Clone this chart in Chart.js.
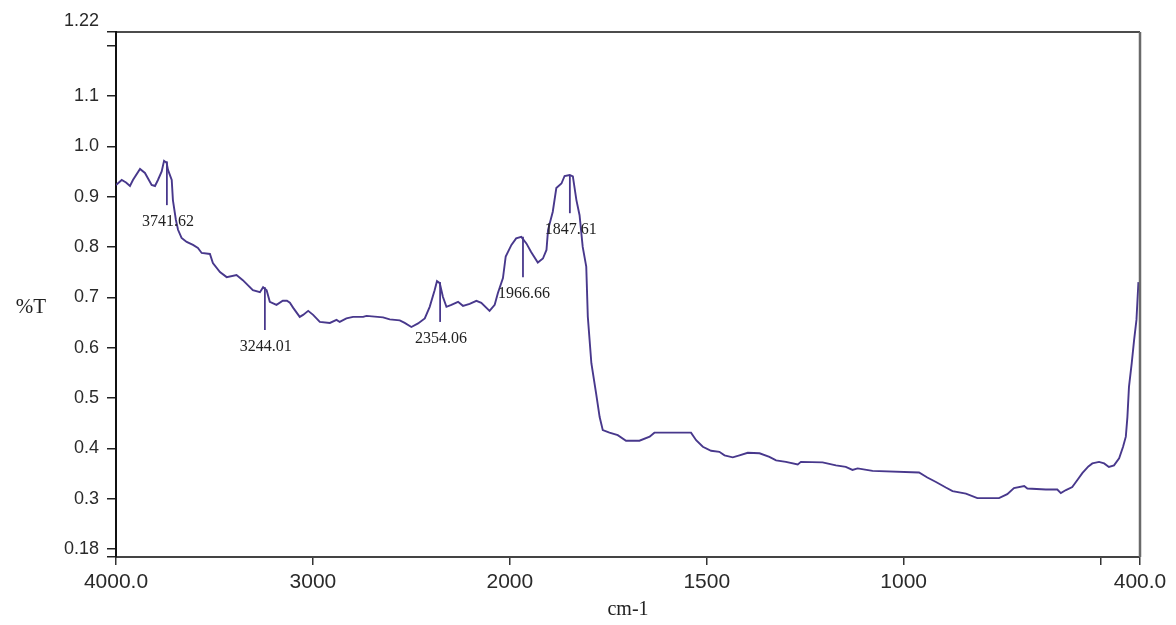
<!DOCTYPE html>
<html>
<head>
<meta charset="utf-8">
<script src="https://cdn.jsdelivr.net/npm/chart.js@4.4.0/dist/chart.umd.min.js"></script>
<style>
  html, body { margin: 0; padding: 0; background: #fff; }
  #wrap { width: 1176px; height: 625px; position: relative; }
</style>
</head>
<body>
<div id="wrap"><canvas id="chart-ir"></canvas></div>
<script>
// Spectrum (cm-1 / %T)
const wavenumbers = [
  4000, 3971, 3949, 3929, 3914, 3878, 3853, 3819, 3802, 3787,
  3768, 3756, 3743, 3736, 3717, 3711, 3696, 3685, 3667, 3641,
  3609, 3584, 3565, 3523, 3508, 3472, 3438, 3388, 3356, 3305,
  3269, 3253, 3235, 3219, 3185, 3153, 3132, 3117, 3100, 3067,
  3050, 3024, 2999, 2965, 2914, 2880, 2864, 2830, 2796, 2745,
  2728, 2644, 2610, 2559, 2534, 2500, 2466, 2432, 2407, 2382,
  2370, 2356, 2340, 2322, 2297, 2263, 2238, 2204, 2170, 2145,
  2103, 2077, 2061, 2035, 2021, 1996, 1984, 1971, 1958, 1946,
  1929, 1916, 1907, 1903, 1891, 1882, 1869, 1861, 1848, 1840,
  1831, 1823, 1815, 1806, 1802, 1793, 1781, 1772, 1764, 1747,
  1726, 1705, 1671, 1645, 1633, 1540, 1527, 1510, 1489, 1468,
  1455, 1434, 1417, 1396, 1366, 1341, 1324, 1299, 1269, 1261,
  1206, 1172, 1147, 1130, 1117, 1079, 961, 940, 918, 893,
  876, 842, 813, 758, 737, 720, 694, 686, 639, 610,
  601, 588, 572, 559, 546, 531, 521, 504, 491, 479,
  466, 453, 443, 436, 432, 428, 421, 415, 409, 404
];
const transmittance = [
  0.923, 0.933, 0.928, 0.921, 0.933, 0.955, 0.947, 0.923, 0.921, 0.933,
  0.950, 0.971, 0.967, 0.953, 0.933, 0.893, 0.854, 0.834, 0.818, 0.810,
  0.804, 0.798, 0.788, 0.786, 0.768, 0.750, 0.740, 0.744, 0.734, 0.714,
  0.710, 0.720, 0.714, 0.691, 0.685, 0.693, 0.693, 0.689, 0.679, 0.661,
  0.665, 0.673, 0.665, 0.651, 0.649, 0.655, 0.651, 0.658, 0.661, 0.661,
  0.663, 0.660, 0.656, 0.654, 0.649, 0.641, 0.648, 0.658, 0.681, 0.714,
  0.732, 0.728, 0.701, 0.681, 0.685, 0.691, 0.683, 0.687, 0.693, 0.689,
  0.673, 0.685, 0.708, 0.738, 0.781, 0.804, 0.817, 0.820, 0.807, 0.790,
  0.769, 0.777, 0.794, 0.834, 0.870, 0.917, 0.926, 0.941, 0.943, 0.940,
  0.893, 0.863, 0.800, 0.761, 0.661, 0.569, 0.509, 0.462, 0.436, 0.431,
  0.426, 0.415, 0.415, 0.423, 0.431, 0.431, 0.416, 0.403, 0.395, 0.393,
  0.386, 0.382, 0.386, 0.391, 0.390, 0.383, 0.376, 0.373, 0.368, 0.373,
  0.372, 0.366, 0.363, 0.357, 0.360, 0.355, 0.352, 0.342, 0.333, 0.322,
  0.315, 0.310, 0.301, 0.301, 0.309, 0.321, 0.325, 0.320, 0.318, 0.318,
  0.311, 0.317, 0.323, 0.337, 0.351, 0.364, 0.370, 0.373, 0.370, 0.363,
  0.366, 0.380, 0.403, 0.423, 0.462, 0.522, 0.569, 0.615, 0.655, 0.730
];

// Peak markers
const peakWavenumbers = [3741.62, 3244.01, 2354.06, 1966.66, 1847.61];
const peakLabels = ['3741.62', '3244.01', '2354.06', '1966.66', '1847.61'];
const peakTop = [0.970, 0.720, 0.730, 0.820, 0.943];
const peakBottom = [0.883, 0.635, 0.651, 0.740, 0.867];

// Ticks
const xTickValues = [4000, 3000, 2000, 1500, 1000, 500, 400];
const xTickLabels = ['4000.0', '3000', '2000', '1500', '1000', '', '400.0'];
const yTickValues = [0.184, 0.2, 0.3, 0.4, 0.5, 0.6, 0.7, 0.8, 0.9, 1.0, 1.1, 1.2, 1.227];
const yTickLabels = ['', '0.18', '0.3', '0.4', '0.5', '0.6', '0.7', '0.8', '0.9', '1.0', '1.1', '', ['1.22', '']];

// the x axis is split: 4000-2000 is drawn at half the scale of 2000-400
function toAxis(wn) {
    return wn >= 2000 ? (4000 - wn) / 2 : 1000 + (2000 - wn);
}

const lineColor = '#48388c';

// peak sticks + labels
const peakPlugin = {
    id: 'peaks',
    afterDatasetsDraw(chart) {
        const ctx = chart.ctx;
        const xs = chart.scales.x, ys = chart.scales.y;
        ctx.save();
        ctx.strokeStyle = lineColor;
        ctx.lineWidth = 1.8;
        ctx.fillStyle = '#222';
        ctx.font = '16px "Liberation Serif", serif';
        ctx.textAlign = 'center';
        ctx.textBaseline = 'middle';
        peakWavenumbers.forEach((wn, i) => {
            const x = xs.getPixelForValue(toAxis(wn));
            const y1 = ys.getPixelForValue(peakTop[i]);
            const y2 = ys.getPixelForValue(peakBottom[i]);
            ctx.beginPath();
            ctx.moveTo(x, y1);
            ctx.lineTo(x, y2);
            ctx.stroke();
            ctx.fillText(peakLabels[i], x + 1, y2 + 17);
        });
        ctx.restore();
    }
};

// top/right frame and axis titles
const framePlugin = {
    id: 'frame',
    afterDraw(chart) {
        const ctx = chart.ctx;
        const a = chart.chartArea;
        ctx.save();
        ctx.strokeStyle = '#111';
        ctx.lineWidth = 1.5;
        ctx.beginPath();
        ctx.moveTo(a.left, a.top);
        ctx.lineTo(a.right, a.top);
        ctx.stroke();
        ctx.strokeStyle = '#6a6a6a';
        ctx.lineWidth = 2.5;
        ctx.beginPath();
        ctx.moveTo(a.right, a.top);
        ctx.lineTo(a.right, a.bottom);
        ctx.stroke();

        ctx.fillStyle = '#222';
        ctx.textAlign = 'center';
        ctx.textBaseline = 'middle';
        ctx.font = '21px "Liberation Serif", serif';
        ctx.fillText('%T', a.left - 85, (a.top + a.bottom) / 2 + 13);
        ctx.font = '20px "Liberation Serif", serif';
        ctx.fillText('cm-1', (a.left + a.right) / 2, a.bottom + 53);
        ctx.restore();
    }
};

const ctxIr = document.getElementById('chart-ir').getContext('2d');
const chartIr = new Chart(ctxIr, {
    type: 'line',
    data: {
        datasets: [{
            data: wavenumbers.map((wn, i) => ({ x: toAxis(wn), y: transmittance[i] })),
            borderColor: lineColor,
            borderWidth: 1.9,
            pointRadius: 0,
            tension: 0,
            fill: false
        }]
    },
    options: {
        responsive: true,
        maintainAspectRatio: false,
        animation: false,
        layout: {
            padding: { left: 0, top: 32, right: 36, bottom: 0 }
        },
        plugins: {
            legend: { display: false },
            tooltip: { enabled: false }
        },
        scales: {
            x: {
                type: 'linear',
                min: 0,
                max: 2600,
                afterBuildTicks: scale => {
                    scale.ticks = xTickValues.map(v => ({ value: toAxis(v) }));
                },
                afterFit: scale => { scale.height = 68; },
                ticks: {
                    autoSkip: false,
                    maxRotation: 0,
                    padding: 5,
                    color: '#2a2a2a',
                    font: { family: '"Liberation Sans", sans-serif', size: 21 },
                    callback: (value, index) => xTickLabels[index]
                },
                grid: {
                    drawOnChartArea: false,
                    drawTicks: true,
                    tickLength: 8,
                    color: '#333',
                    lineWidth: 1.5
                },
                border: { display: true, color: '#444', width: 2 }
            },
            y: {
                min: 0.184,
                max: 1.227,
                afterBuildTicks: scale => {
                    scale.ticks = yTickValues.map(v => ({ value: v }));
                },
                afterFit: scale => { scale.width = 116; },
                ticks: {
                    autoSkip: false,
                    padding: 8,
                    color: '#2a2a2a',
                    font: { family: '"Liberation Sans", sans-serif', size: 18 },
                    callback: (value, index) => yTickLabels[index]
                },
                grid: {
                    drawOnChartArea: false,
                    drawTicks: true,
                    tickLength: 9,
                    color: '#222',
                    lineWidth: 1.5
                },
                border: { display: true, color: '#111', width: 2 }
            }
        }
    },
    plugins: [peakPlugin, framePlugin]
});
</script>
</body>
</html>
